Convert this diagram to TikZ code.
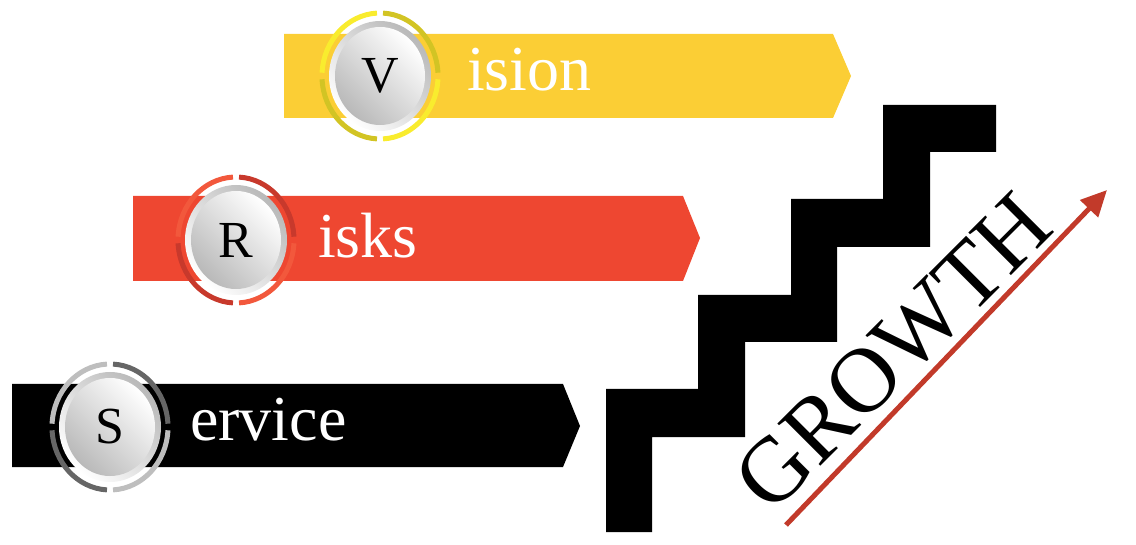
\documentclass[tikz,border=0pt]{standalone}
\usepackage{fontspec}
\setmainfont{Liberation Serif}
\usepackage{tikz}
\usetikzlibrary{arrows.meta}
\definecolor{visionyellow}{HTML}{FBCE35}
\definecolor{visionlight}{HTML}{F9EC2E}
\definecolor{visiondark}{HTML}{D2C424}
\definecolor{risksred}{HTML}{EE4731}
\definecolor{riskslight}{HTML}{F2583C}
\definecolor{risksdark}{HTML}{C8392C}
\definecolor{servicelight}{HTML}{BEBEBE}
\definecolor{servicedark}{HTML}{666666}
\definecolor{growthred}{HTML}{C23A2A}

% badge: centre, light ring, dark ring, letter, name
\newcommand{\badge}[5]{%
  \foreach \a/\c in {0/#2,90/#3,180/#2,270/#3}
    \draw[line width=5,\c] ([shift={(\a+3:58 and 63)}]#1)
      arc[start angle=\a+3,end angle=\a+87,x radius=58,y radius=63];
  \shade[top color=white,bottom color=gray!55,shading angle=135] (#1) ellipse[x radius=51,y radius=55];
  \shade[top color=gray!55,bottom color=white,shading angle=135] (#1) ellipse[x radius=45,y radius=49];
  \node[initial] (#5) at (#1) {#4};
}

\begin{document}
\begin{tikzpicture}[x=1pt,y=-1pt,
  initial/.style={font=\fontsize{52}{52}\selectfont,text=black,inner sep=0pt},
  word/.style={font=\fontsize{64}{64}\selectfont,text=white,anchor=base west,inner sep=0pt}]
  \useasboundingbox (0,0) rectangle (1136,545);

  % banners
  \fill[visionyellow] (284,34) -- (833,34) -- (851,76) -- (833,118) -- (284,118) -- cycle;
  \fill[risksred] (133,196) -- (683,196) -- (700,238) -- (683,281) -- (133,281) -- cycle;
  \fill[black] (12,384) -- (563,384) -- (580,426) -- (563,467) -- (12,467) -- cycle;

  \badge{380,76}{visionlight}{visiondark}{V}{vletter}
  \badge{236,240}{riskslight}{risksdark}{R}{rletter}
  \badge{110,427}{servicelight}{servicedark}{S}{sletter}

  \node[word] (vision) at (467,91) {ision};
  \node[word] (risks) at (318,258) {isks};
  \node[word] (service) at (190,440) {ervice};

  % staircase
  \fill[black] (606,532) -- (606,389) -- (698,389) -- (698,295) -- (791,295) -- (791,199)
    -- (883,199) -- (883,105) -- (996,105) -- (996,152) -- (930,152) -- (930,247)
    -- (837,247) -- (837,342) -- (745,342) -- (745,437) -- (652,437) -- (652,532) -- cycle;

  \node[font=\fontsize{92}{92}\selectfont,rotate=45,inner sep=0pt] (growth) at (893,352) {GROWTH};

  \coordinate (arrowtail) at (786,525);
  \coordinate (arrowtip) at (1107,190);
  \draw[growthred,line width=5,-{Triangle[length=26pt,width=24pt]}] (arrowtail) -- (arrowtip);
\end{tikzpicture}
\end{document}
